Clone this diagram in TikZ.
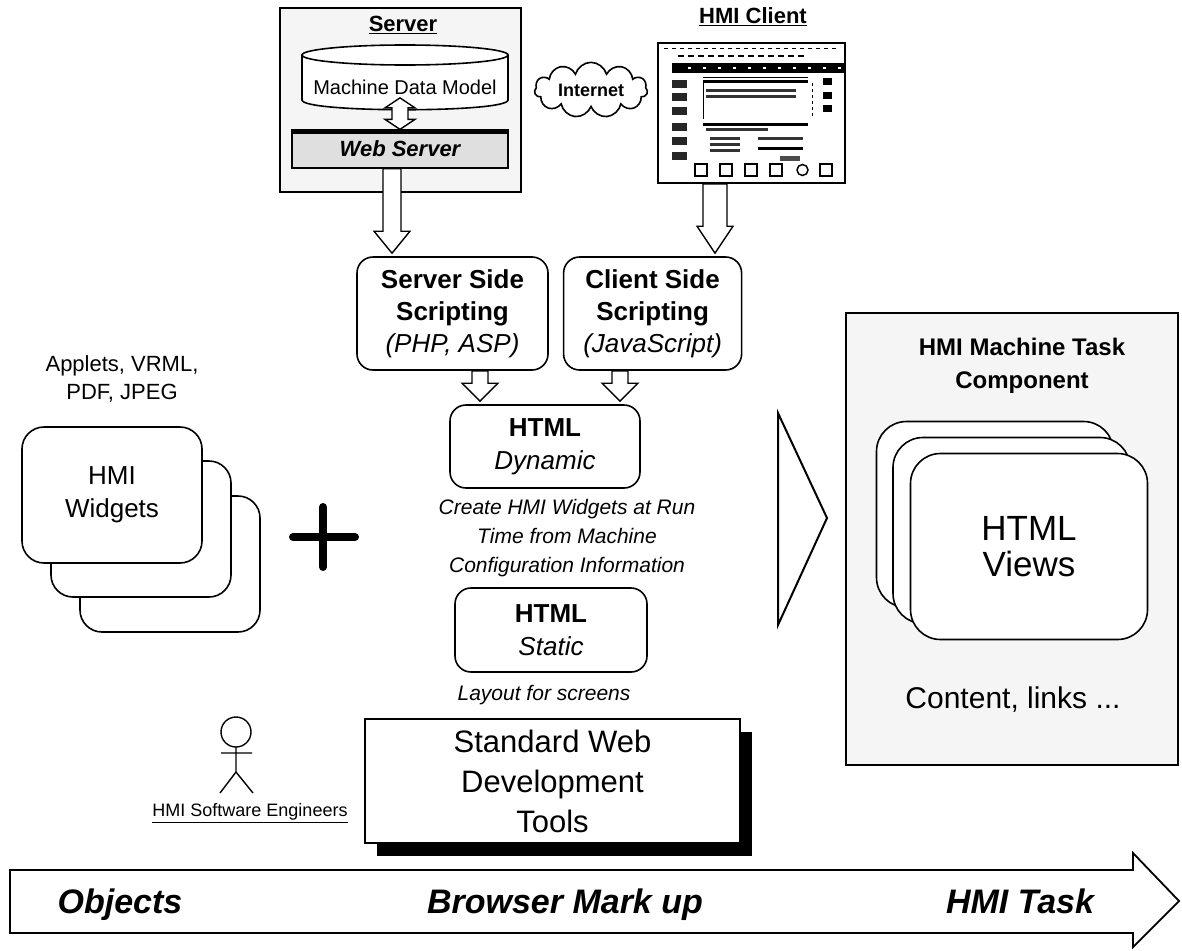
\documentclass[tikz,border=0pt]{standalone}
\usepackage{fontspec}
\setmainfont{Liberation Sans}
\usetikzlibrary{calc,positioning,shapes.symbols,shadows}

\newcommand{\fsz}[2]{\fontsize{#1}{#2}\selectfont}

% hollow block arrow pointing down: x, from node, to node, half shaft, half head, head length
\newcommand{\blockdown}[6]{%
  \draw[blockarrow] let \p1=(#2.south), \p2=(#3.north) in
    (#1pt-#4pt,\y1) -- (#1pt+#4pt,\y1) -- (#1pt+#4pt,\y2+#6pt+3pt)
    -- (#1pt+#5pt,\y2+#6pt+3pt) -- (#1pt,\y2+3pt) -- (#1pt-#5pt,\y2+#6pt+3pt)
    -- (#1pt-#4pt,\y2+#6pt+3pt) -- cycle;}

% hollow double headed block arrow: x, upper node, lower node
\newcommand{\blockboth}[3]{%
  \draw[blockarrow] let \p1=(#2.south), \p2=(#3.north) in
    (#1pt,\y1) -- (#1pt+15pt,\y1-10pt) -- (#1pt+8pt,\y1-10pt) -- (#1pt+8pt,\y2+10pt)
    -- (#1pt+15pt,\y2+10pt) -- (#1pt,\y2) -- (#1pt-15pt,\y2+10pt) -- (#1pt-8pt,\y2+10pt)
    -- (#1pt-8pt,\y1-10pt) -- (#1pt-15pt,\y1-10pt) -- cycle;}

\begin{document}
\begin{tikzpicture}[x=1pt, y=-1pt,
    panel/.style={draw, line width=1.8pt, fill=gray!8},
    roundbox/.style={draw, line width=1.6pt, rounded corners=16pt, fill=white, align=center},
    card/.style={draw, line width=1.6pt, rounded corners=22pt, fill=white, align=center,
      minimum width=180pt, minimum height=136pt},
    viewcard/.style={draw, line width=1.6pt, rounded corners=30pt, fill=white, align=center,
      minimum width=237pt, minimum height=186pt},
    blockarrow/.style={line width=1.4pt, fill=white, draw},
    caption/.style={font=\fsz{21}{29}\itshape, align=center},
    flowlbl/.style={font=\fsz{34}{36}\bfseries\itshape, anchor=base}]

  \useasboundingbox (0,0) rectangle (1182,950);

  % server with data model and web server
  \node[panel, minimum width=241pt, minimum height=184pt] (server) at (400.5,100) {};
  \node[font=\fsz{22}{24}\bfseries] (servertitle) at (403,25) {\underline{Server}};
  \draw[line width=1.6pt, fill=white] (302,55) -- (302,100) .. controls (302,113) and (508,113) .. (508,100) -- (508,55);
  \draw[line width=1.6pt, fill=white] (405,55) ellipse [x radius=103, y radius=10];
  \node[font=\fsz{20}{22}] (mdm) at (405,87) {Machine Data Model};
  \node[draw, line width=1.2pt, fill=gray!25, minimum width=216pt, minimum height=38pt,
    font=\fsz{22}{24}\bfseries\itshape] (websrv) at (400,149) {Web Server};
  \draw[line width=5pt] ([yshift=-2.5pt]websrv.north west) -- ([yshift=-2.5pt]websrv.north east);
  \blockboth{400}{mdm}{websrv}

  \node[cloud, draw, line width=1.6pt, fill=white, cloud puffs=11, aspect=2.8, inner sep=2pt,
    minimum width=113pt, minimum height=42pt, font=\fsz{18}{20}\bfseries] (net) at (591,90) {Internet};

  % client screen
  \node[font=\fsz{22}{24}\bfseries] (clienttitle) at (753,17) {\underline{HMI Client}};
  \node[draw, line width=2pt, fill=white, minimum width=187pt, minimum height=140pt] (client) at (751.5,113) {};
  \begin{scope}[shift={(658,43)}]
    \foreach \x in {6,14,...,180} \fill (\x,5) rectangle ++(4,1.5);
    \foreach \x in {20,30,...,140} \fill (\x,12) rectangle ++(6,2);
    \fill (14,20) rectangle (187,30);
    \foreach \x in {30,45,...,180} \fill[white] (\x,24) rectangle ++(3,2);
    \foreach \y in {37,50,64,80,94,109} \fill[black!85] (14,\y) rectangle ++(15,8);
    \draw[line width=0.6pt] (45,34) -- (150,34);
    \fill (45,37) rectangle (150,40);
    \foreach \y in {46,52} \fill[black!80] (48,\y) rectangle ++(90,2.5);
    \draw[line width=1pt] (45,40) -- (45,76);
    \draw[line width=0.6pt, dashed] (154,40) -- (154,75);
    \fill (45,80) rectangle (150,83);
    \fill[black!80] (48,85) rectangle (110,88);
    \foreach \y in {94,100,106} \fill[black!80] (52,\y) rectangle ++(30,3);
    \fill[black!80] (100,94) rectangle ++(45,3);
    \fill (100,104) rectangle ++(45,2.5);
    \fill[black!70] (122,113) rectangle ++(20,5);
    \foreach \y in {35,49,62} \fill (165,\y) rectangle ++(9,7);
    \foreach \x in {37,62,87,112,162} \draw[line width=1.5pt] (\x,121) rectangle ++(12,12);
    \draw[line width=1.5pt] (144.5,127) circle (5.5);
  \end{scope}

  % scripting
  \node[roundbox, minimum width=191pt, minimum height=113pt, font=\fsz{26}{32}\bfseries] (sss) at (452.5,313.5)
    {Server Side\\Scripting\\{\mdseries\itshape (PHP, ASP)}};
  \node[roundbox, minimum width=178pt, minimum height=113pt, font=\fsz{26}{32}\bfseries, right=14pt of sss] (css)
    {Client Side\\Scripting\\{\mdseries\itshape (JavaScript)}};
  \blockdown{392}{websrv}{sss}{9}{18}{22}
  \blockdown{715}{client}{css}{12}{18}{27}

  % html pages
  \node[roundbox, minimum width=190pt, minimum height=83pt, font=\fsz{26}{33}] (dyn) at (545,446.5)
    {{\bfseries HTML}\\{\itshape Dynamic}};
  \blockdown{480}{sss}{dyn}{8}{18}{18}
  \blockdown{620}{css}{dyn}{8}{18}{18}
  \node[caption] (dyncap) at (567,538) {Create HMI Widgets at Run\\Time from Machine\\Configuration Information};
  \node[roundbox, minimum width=192pt, minimum height=84pt, font=\fsz{26}{33}] (static) at (551,630)
    {{\bfseries HTML}\\{\itshape Static}};
  \node[caption] (statcap) at (544,695) {Layout for screens};

  \node[draw, line width=1.6pt, fill=white, align=center, minimum width=375pt, minimum height=124pt,
    drop shadow={shadow xshift=12pt, shadow yshift=-13pt, fill=black, opacity=1},
    font=\fsz{31}{40}] (tools) at (552.5,781) {Standard Web\\Development\\Tools};

  % engineers
  \draw[line width=1.4pt] (236,732) circle (15);
  \draw[line width=1.4pt] (236,747) -- (236,772) (221,753) -- (252,753) (220,793) -- (236,772) -- (253,793);
  \node[font=\fsz{18}{20}] (eng) at (250,813) {\underline{HMI Software Engineers}};

  % widgets
  \node[font=\fsz{22}{28}, align=center] (formats) at (122,379) {Applets, VRML,\\PDF, JPEG};
  \node[card] (w3) at (170,564) {};
  \node[card] (w2) at (141,529) {};
  \node[card, font=\fsz{26}{33}] (widgets) at (112,495) {HMI\\Widgets};
  \draw[line width=8pt, line cap=round] (293,537) -- (355,537) (323,507) -- (323,567);

  \draw[line width=2pt] (778,413) -- (827,518) -- (778,625) -- cycle;

  % task component
  \node[panel, minimum width=332pt, minimum height=452pt] (task) at (1012,539) {};
  \node[font=\fsz{24}{33}\bfseries, align=center] (tasktitle) at (1022,366) {HMI Machine Task\\Component};
  \node[viewcard] (v3) at (995,514.5) {};
  \node[viewcard] (v2) at (1011.5,530.5) {};
  \node[viewcard, font=\fsz{35}{36}] (views) at (1029,546.5) {HTML\\Views};
  \node[font=\fsz{30}{32}] (content) at (1013,700) {Content, links ...};

  % flow along the bottom
  \draw[line width=1.8pt, fill=white] (10,870) -- (1133,870) -- (1133,853) -- (1179,901) -- (1133,947)
    -- (1133,933) -- (10,933) -- cycle;
  \node[flowlbl] (objects) at (120,913) {Objects};
  \node[flowlbl] (markup) at (565,913) {Browser Mark up};
  \node[flowlbl] (htask) at (1020,913) {HMI Task};
\end{tikzpicture}
\end{document}
